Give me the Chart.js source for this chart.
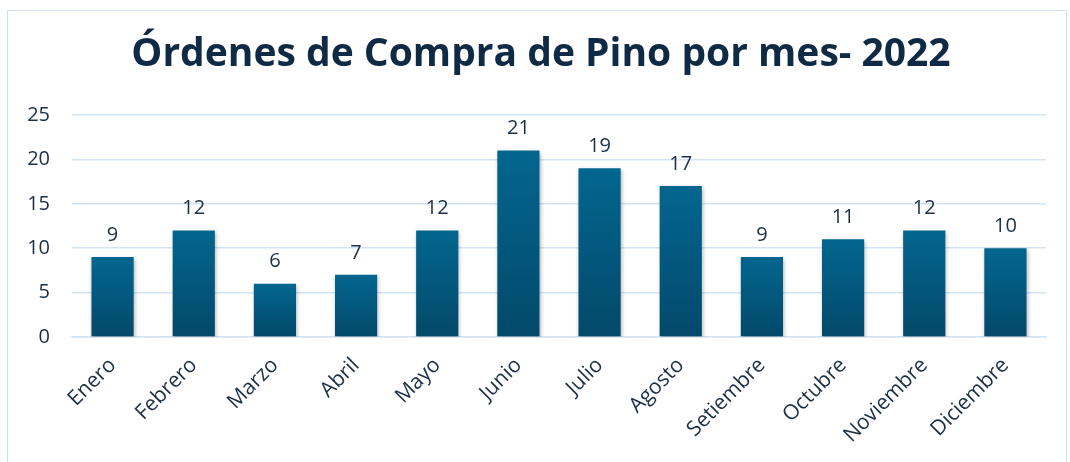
<!DOCTYPE html>
<html>
<head>
<meta charset="utf-8">
<script src="https://cdn.jsdelivr.net/npm/chart.js@4"></script>
<style>
  html, body { margin: 0; padding: 0; background: #fff; overflow: hidden; }
  #frame { position: absolute; left: 7px; top: 10px; width: 1060px; height: 470px; border: 1.5px solid #cfe0f3; box-sizing: border-box; }
  #wrap { position: absolute; left: 0; top: 0; width: 1070px; height: 462px; }
</style>
</head>
<body>
<div id="frame"></div>
<div id="wrap"><canvas id="chart" width="1070" height="462"></canvas></div>
<script>
// Data
const titleText = 'Órdenes de Compra de Pino por mes- 2022';
const months = ['Enero', 'Febrero', 'Marzo', 'Abril', 'Mayo', 'Junio', 'Julio', 'Agosto', 'Setiembre', 'Octubre', 'Noviembre', 'Diciembre'];
const orders = [9, 12, 6, 7, 12, 21, 19, 17, 9, 11, 12, 10];
const yTicks = [0, 5, 10, 15, 20, 25];

const textColor = '#1b2f45';
const fontFamily = "'Open Sans', 'Liberation Sans', sans-serif";

// gradient per bar, top lighter -> bottom darker
function barGradient(context) {
  const chart = context.chart;
  const yScale = chart.scales.y;
  if (!chart.chartArea || !yScale) return '#015a80';
  const v = context.raw;
  const top = yScale.getPixelForValue(v);
  const bottom = yScale.getPixelForValue(0);
  if (!isFinite(top) || !isFinite(bottom) || top === bottom) return '#015a80';
  const g = chart.ctx.createLinearGradient(0, top, 0, bottom);
  g.addColorStop(0, '#03668f');
  g.addColorStop(1, '#03496a');
  return g;
}

// title centred on the outer frame (not on the plot)
const frameTitle = {
  id: 'frameTitle',
  afterDraw(chart) {
    const ctx = chart.ctx;
    ctx.save();
    ctx.font = 'bold 39px ' + fontFamily;
    ctx.fillStyle = '#0f2a45';
    ctx.textAlign = 'center';
    ctx.textBaseline = 'middle';
    ctx.fillText(titleText, 541, 55);
    ctx.restore();
  }
};

// value labels above bars
const valueLabels = {
  id: 'valueLabels',
  afterDatasetsDraw(chart) {
    const ctx = chart.ctx;
    const meta = chart.getDatasetMeta(0);
    ctx.save();
    ctx.font = '20px ' + fontFamily;
    ctx.fillStyle = textColor;
    ctx.textAlign = 'center';
    ctx.textBaseline = 'bottom';
    meta.data.forEach((bar, i) => {
      ctx.fillText(String(orders[i]), bar.x, bar.y - 12);
    });
    ctx.restore();
  }
};

// soft shadow under the bars
const barShadow = {
  id: 'barShadow',
  beforeDatasetsDraw(chart) {
    const ctx = chart.ctx;
    ctx.save();
    ctx.shadowColor = 'rgba(0,0,0,0.28)';
    ctx.shadowBlur = 4;
    ctx.shadowOffsetX = 1;
    ctx.shadowOffsetY = 2;
  },
  afterDatasetsDraw(chart) {
    chart.ctx.restore();
  }
};

new Chart(document.getElementById('chart').getContext('2d'), {
  type: 'bar',
  data: {
    labels: months,
    datasets: [{
      data: orders,
      backgroundColor: barGradient,
      borderWidth: 0,
      categoryPercentage: 1,
      barPercentage: 0.52
    }]
  },
  options: {
    responsive: false,
    animation: false,
    devicePixelRatio: 1,
    layout: { padding: { left: 0, right: 24, top: 115, bottom: 0 } },
    plugins: {
      legend: { display: false },
      tooltip: { enabled: false },
      title: { display: false }
    },
    scales: {
      y: {
        min: 0,
        max: 25,
        afterBuildTicks(scale) {
          scale.ticks = yTicks.map(v => ({ value: v }));
        },
        afterFit(scale) { scale.width = 72; },
        border: { display: false },
        grid: { color: '#d3e3f4', lineWidth: 1.5, drawTicks: false },
        ticks: {
          color: textColor,
          padding: 22,
          font: { family: fontFamily, size: 20 }
        }
      },
      x: {
        afterFit(scale) { scale.height = 125; },
        border: { display: true, color: '#d3e3f4', width: 1.5 },
        grid: { display: false, drawTicks: false },
        ticks: {
          color: textColor,
          minRotation: 45,
          maxRotation: 45,
          padding: 16,
          font: { family: fontFamily, size: 21 }
        }
      }
    }
  },
  plugins: [barShadow, valueLabels, frameTitle]
});
</script>
</body>
</html>
